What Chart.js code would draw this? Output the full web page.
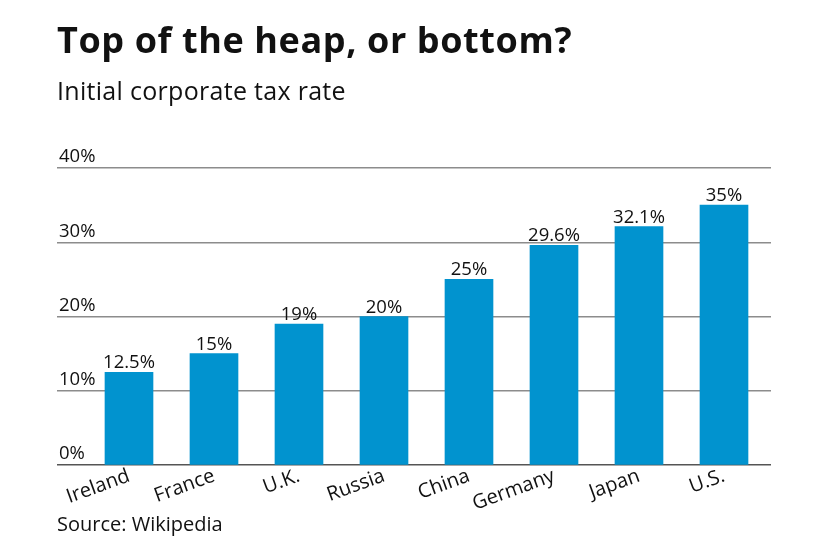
<!DOCTYPE html>
<html><head><meta charset="utf-8">
<script src="https://cdn.jsdelivr.net/npm/chart.js@4.4.1/dist/chart.umd.min.js"></script>
<style>
html,body{margin:0;padding:0;background:#fff;}
#wrap{position:relative;width:840px;height:547px;overflow:hidden;}
canvas{position:absolute;left:0;top:0;}
.t{position:absolute;left:57px;font-family:"Open Sans", sans-serif;color:#111;white-space:nowrap;line-height:1;}
#title{top:22px;font-size:36px;font-weight:700;letter-spacing:0.6px;}
#sub{top:78px;font-size:25px;letter-spacing:0.3px;}
#src{top:514px;font-size:20px;}
</style></head><body>
<div id="wrap">
<canvas id="c" width="840" height="547"></canvas>
<div class="t" id="title">Top of the heap, or bottom?</div>
<div class="t" id="sub">Initial corporate tax rate</div>
<div class="t" id="src">Source: Wikipedia</div>
</div>
<script>
const categories = ['Ireland', 'France', 'U.K.', 'Russia', 'China', 'Germany', 'Japan', 'U.S.'];
const rates = [12.5, 15, 19, 20, 25, 29.6, 32.1, 35];
const valueLabels = ['12.5%', '15%', '19%', '20%', '25%', '29.6%', '32.1%', '35%'];
const yTicks = [0, 10, 20, 30, 40];
const yTickLabels = ['0%', '10%', '20%', '30%', '40%'];

const FONT = '"Open Sans", sans-serif';

const valueLabelPlugin = {
  id: 'valueLabels',
  afterDatasetsDraw(chart) {
    const ctx = chart.ctx;
    const meta = chart.getDatasetMeta(0);
    ctx.save();
    ctx.font = '18.5px ' + FONT;
    ctx.fillStyle = '#111';
    ctx.textAlign = 'center';
    ctx.textBaseline = 'alphabetic';
    meta.data.forEach((el, i) => {
      ctx.fillText(valueLabels[i], el.x, el.y - 4);
    });
    ctx.restore();
  }
};

new Chart(document.getElementById('c'), {
  type: 'bar',
  data: {
    datasets: [{
      data: rates.map((v, i) => ({ x: i, y: v })),
      backgroundColor: '#0193cf',
      borderWidth: 0,
      barThickness: 48
    }]
  },
  options: {
    responsive: false,
    animation: false,
    events: [],
    layout: { padding: { left: 57, right: 69, top: 168, bottom: 32 } },
    plugins: { legend: { display: false }, tooltip: { enabled: false } },
    scales: {
      x: {
        type: 'linear',
        offset: false,
        min: -0.847,
        max: 7.553,
        afterBuildTicks: (axis) => { axis.ticks = categories.map((_, i) => ({ value: i })); },
        afterFit: (axis) => { axis.paddingLeft = 0; axis.paddingRight = 0; },
        grid: { display: false, drawTicks: false },
        border: { display: false },
        ticks: {
          autoSkip: false,
          minRotation: 20,
          maxRotation: 20,
          padding: -1,
          color: '#111',
          font: { family: FONT, size: 20 },
          callback: (v) => categories[v] !== undefined ? categories[v] : ''
        }
      },
      y: {
        min: 0,
        max: 40,
        afterBuildTicks: (axis) => { axis.ticks = yTicks.map(v => ({ value: v })); },
        afterFit: (axis) => { axis.width = 0; },
        border: { display: false },
        grid: {
          drawTicks: false,
          lineWidth: 1.5,
          color: (c) => (c.tick && c.tick.value === 0) ? '#555' : '#8c8c8c'
        },
        ticks: {
          mirror: true,
          padding: 2,
          labelOffset: -11,
          color: '#111',
          font: { family: FONT, size: 18.5 },
          callback: (v) => yTickLabels[yTicks.indexOf(v)]
        }
      }
    }
  },
  plugins: [valueLabelPlugin]
});
</script>
</body></html>
